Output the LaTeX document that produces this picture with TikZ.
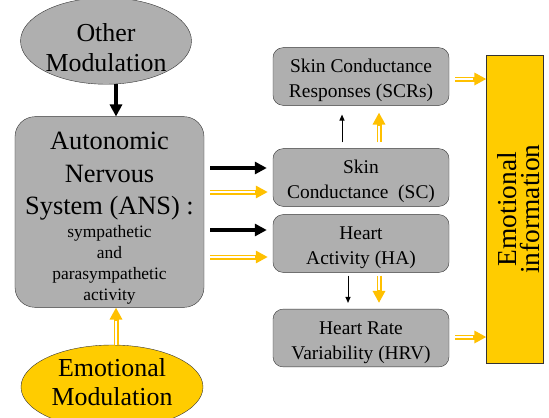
\documentclass[tikz,border=0pt]{standalone}
\usepackage{fontspec}
\setmainfont{Liberation Serif}
\usetikzlibrary{shapes.geometric,arrows.meta,calc}
\definecolor{boxgray}{HTML}{AFAFAF}
\definecolor{emoyellow}{HTML}{FFCC00}
\definecolor{arryellow}{HTML}{FFC000}

\begin{document}
\begin{tikzpicture}[x=1bp,y=-1bp,
  modnode/.style={ellipse,draw=black!80,inner sep=0pt,align=center,
    font=\fontsize{26}{30}\selectfont},
  sigbox/.style={rectangle,rounded corners=10bp,draw=black!80,fill=boxgray,
    minimum width=176bp,minimum height=56bp,align=center,
    font=\fontsize{19.5}{25}\selectfont},
  bigarrow/.style={-{Triangle[length=12bp,width=12bp]},line width=4bp},
  smallarrow/.style={-{Triangle[length=6bp,width=5bp]},line width=1bp},
  yelarrow/.style={draw=arryellow,line width=5bp,
    -{Triangle[length=12bp,width=12bp]},
    postaction={draw=white,line width=1.8bp,-,shorten >=13bp}}]

%SPACING
\useasboundingbox (0,0) rectangle (549,417);
%SPACING

\node[modnode,fill=boxgray,minimum width=170bp,minimum height=73bp](other) at (106,41) {\rule{0pt}{31bp}Other\\Modulation};
\node[rectangle,rounded corners=20bp,draw=black!80,fill=boxgray,minimum width=189bp,minimum height=190bp,align=center,font=\fontsize{26.5}{32.5}\selectfont](ans) at (109.5,212)
  {\rule{0pt}{30bp}Autonomic\\Nervous\\System (ANS) :\\[-9.5bp]{\fontsize{17.5}{21}\selectfont sympathetic}\\[-11.5bp]{\fontsize{17.5}{21}\selectfont and}\\[-11.5bp]{\fontsize{17.5}{21}\selectfont parasympathetic}\\[-11.5bp]{\fontsize{17.5}{21}\selectfont activity}};
\node[modnode,fill=emoyellow,minimum width=182bp,minimum height=84bp](emo) at (112,387) {Emotional\\Modulation\rule[-10bp]{0pt}{0pt}};

\node[sigbox](scr) at (361,76.5) {\rule{0pt}{22bp}Skin Conductance\\Responses (SCRs)};
\node[sigbox](sc) at (361,177.5) {\rule{0pt}{22bp}Skin\\Conductance~~(SC)};
\node[sigbox](ha) at (361,243.5) {\rule{0pt}{22bp}Heart\\Activity (HA)};
\node[sigbox,minimum height=50bp](hrv) at (361,338) {\rule{0pt}{22bp}Heart Rate\\Variability (HRV)};

\node[rectangle,draw=black!80,fill=emoyellow,minimum width=308bp,minimum height=56bp,rotate=90,align=center,font=\fontsize{27.5}{23}\selectfont](info) at (515,209) {\rule{0pt}{27bp}Emotional\\information};

\draw[bigarrow] (other.south -| 116,0) -- (ans.north -| 116,0);
\draw[yelarrow] (emo.north -| 116,0) -- (ans.south -| 116,0);

\draw[bigarrow,shorten <=6bp,shorten >=6bp] (ans.east |- 0,168) -- (sc.west |- 0,168);
\draw[yelarrow,shorten <=6bp] (ans.east |- 0,192) -- ($(sc.west |- 0,192)+(-5,0)$);
\draw[bigarrow,shorten <=6bp,shorten >=6bp] (ans.east |- 0,230) -- (ha.west |- 0,230);
\draw[yelarrow,shorten <=6bp] (ans.east |- 0,257) -- ($(ha.west |- 0,257)+(-5,0)$);

\draw[smallarrow,shorten <=6bp,shorten >=9bp] (sc.north -| 342,0) -- (scr.south -| 342,0);
\draw[yelarrow,shorten <=6bp] (sc.north -| 379,0) -- ($(scr.south -| 379,0)+(0,7)$);
\draw[smallarrow,shorten <=3bp,shorten >=6bp] (ha.south -| 348,0) -- (hrv.north -| 348,0);
\draw[yelarrow,shorten <=3bp] (ha.south -| 379,0) -- ($(hrv.north -| 379,0)+(0,-6)$);

\draw[yelarrow,shorten <=6bp] (scr.east |- 0,79) -- (info.north |- 0,79);
\draw[yelarrow,shorten <=6bp] (hrv.east |- 0,337) -- (info.north |- 0,337);

\end{tikzpicture}
\end{document}
